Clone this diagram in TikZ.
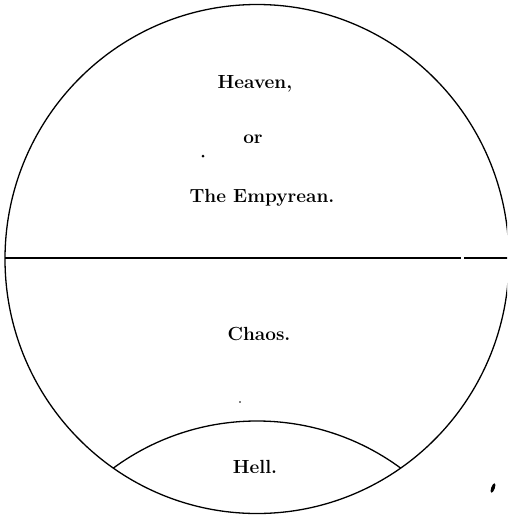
\documentclass[tikz,border=0pt]{standalone}
\begin{document}
\begin{tikzpicture}[x=1pt,y=-1pt,
  outline/.style={line width=1.3pt,black},
  label/.style={anchor=base,inner sep=0pt,font=\fontsize{19}{21}\selectfont\bfseries},
  speck/.style={fill=black,draw=none}]
\useasboundingbox (0,0) rectangle (507,515);
\clip (0,0) rectangle (507,515);
% outer world
\draw[outline] (257,259) ellipse [x radius=252, y radius=254.5];
% division line between Heaven and Chaos
\coordinate (hl) at (5,258);
\coordinate (g1) at (461,258);
\coordinate (g2) at (464,258);
\coordinate (hr) at (508,258);
\draw[outline] (hl) -- (g1);
\draw[outline] (g2) -- (hr);
% Hell arc
\begin{scope}
  \clip (257,259) ellipse [x radius=252, y radius=254.5];
  \draw[outline] (257,663.6) circle [radius=242.6];
\end{scope}
% labels
\node[label] (heaven) at (255,88) {Heaven,};
\node[label] (or) at (253,143) {or};
\node[label] (empyrean) at (262,202) {The Empyrean.};
\node[label] (chaos) at (259,340) {Chaos.};
\node[label] (hell) at (255,473) {Hell.};
% specks in the print
\fill[speck] (203,156) circle [radius=1.5];
\fill[speck] (240,402) circle [radius=0.8];
\fill[speck, rotate around={70:(493,488)}] (493,488) ellipse [x radius=5, y radius=1.8];
\end{tikzpicture}
\end{document}
